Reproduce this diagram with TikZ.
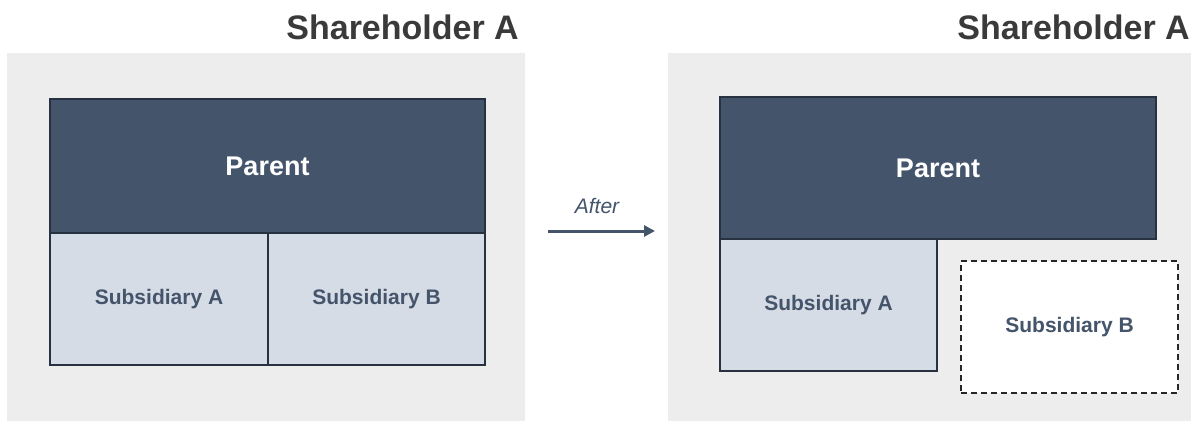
\documentclass[tikz,border=0pt]{standalone}
\usepackage{fontspec}
\setmainfont{Liberation Sans}
\usetikzlibrary{arrows.meta}
\definecolor{navy}{HTML}{44546A}
\definecolor{navyedge}{HTML}{28313F}
\definecolor{subfill}{HTML}{D6DCE5}
\definecolor{panel}{HTML}{EDEDED}
\definecolor{titlegray}{HTML}{3A3A3A}
\begin{document}
\begin{tikzpicture}[x=1pt,y=-1pt,
  panelbox/.style={fill=panel, draw=none},
  titletext/.style={inner sep=0pt, text=titlegray, font=\fontsize{34}{40}\selectfont\bfseries},
  parentbox/.style={rectangle, anchor=north west, inner sep=0pt, outer sep=0pt, fill=navy, draw=navyedge, line width=1.3pt, text=white, font=\fontsize{27}{32}\selectfont\bfseries},
  subbox/.style={rectangle, anchor=north west, inner sep=0pt, outer sep=0pt, fill=subfill, draw=navyedge, line width=1.3pt, text=navy, font=\fontsize{21}{25}\selectfont\bfseries},
  gonebox/.style={rectangle, anchor=north west, inner sep=0pt, outer sep=0pt, fill=white, draw=black!85, line width=1.2pt, dash pattern=on 6pt off 4pt, text=navy, font=\fontsize{21}{25}\selectfont\bfseries},
  afterarrow/.style={draw=navy, line width=3pt, -{Triangle[length=11pt,width=11pt]}}
]
\useasboundingbox (0,0) rectangle (1198,421);
% panels
\fill[panelbox] (7,53) rectangle (525,421);
\fill[panelbox] (668,53) rectangle (1191,421);
% titles
\node[titletext, anchor=base east] (t1) at (519,39) {Shareholder A};
\node[titletext, anchor=base east] (t2) at (1190,39) {Shareholder A};
% before
\node[parentbox, minimum width=435pt, minimum height=134pt] (p1) at (50,99) {Parent};
\node[subbox, minimum width=218pt, minimum height=132pt] (a1) at (50,233) {Subsidiary A};
\node[subbox, minimum width=217pt, minimum height=132pt] (b1) at (268,233) {Subsidiary B};
% arrow
\coordinate (as) at (548,231);
\coordinate (ae) at (655,231);
\draw[afterarrow] (as) -- (ae);
\node[inner sep=0pt, anchor=base, text=navy, font=\fontsize{21}{25}\selectfont\itshape] (after) at (597,213) {After};
% after
\node[parentbox, minimum width=436pt, minimum height=142pt] (p2) at (720,97) {Parent};
\node[subbox, minimum width=217pt, minimum height=132pt] (a2) at (720,239) {Subsidiary A};
\node[gonebox, minimum width=217pt, minimum height=132pt] (b2) at (961,261) {Subsidiary B};
\end{tikzpicture}
\end{document}
